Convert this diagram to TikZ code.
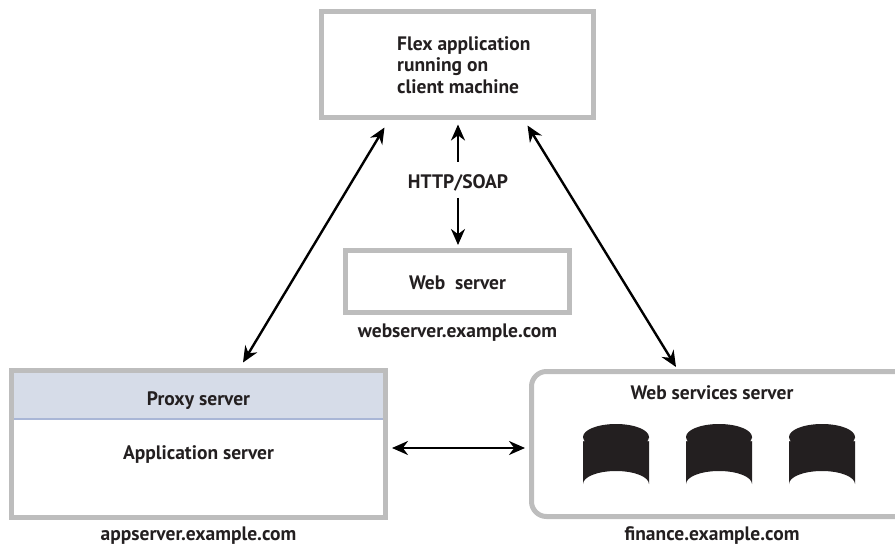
\documentclass[tikz,border=0pt]{standalone}
\usepackage{fontspec}
\setmainfont{PT Sans}
\usetikzlibrary{arrows.meta,calc}
\definecolor{boxgray}{HTML}{BDBDBD}
\definecolor{txt}{HTML}{231F20}
\definecolor{proxyfill}{HTML}{D6DCE8}
\definecolor{proxyline}{HTML}{A9B6D6}
\tikzset{
  box/.style={draw=boxgray, line width=5pt, inner sep=0pt},
  lbl/.style={font=\bfseries\fontsize{19.5}{21.5}\selectfont, text=txt, inner sep=0pt},
  arr/.style={line width=2.4pt, {Stealth[length=16pt,width=14pt]}-{Stealth[length=16pt,width=14pt]}},
  sarr/.style={line width=2.4pt, -{Stealth[length=16pt,width=14pt]}}
}
\newcommand{\dbcyl}[2]{% center x, name
  \fill[txt] (#1-33,437) -- (#1-33,484) arc[start angle=180,end angle=360,x radius=33,y radius=13]
    -- (#1+33,437) -- cycle;
  \draw[white, line width=2.8pt] (#1-33,441) arc[start angle=180,end angle=360,x radius=33,y radius=13];
  \fill[txt] (#1,437) ellipse[x radius=33,y radius=13];
  \coordinate (#2) at (#1,460);
}
\begin{document}
\begin{tikzpicture}[x=1pt,y=-1pt]
\useasboundingbox (0,0) rectangle (895,548);
\clip (0,0) rectangle (895,548);
% client
\node[box, minimum width=272pt, minimum height=106pt] (client) at (457.5,64.5) {};
\node[lbl, align=left, anchor=west] (clienttxt) at (397,65) {Flex application\\running on\\client machine};
% web server
\node[box, minimum width=224pt, minimum height=62pt] (web) at (457.5,281.5) {};
\node[lbl] (webtxt) at (457.5,283) {Web\ \ server};
\node[lbl] (weblbl) at (457.5,333) {webserver.example.com};
% app server
\fill[proxyfill] (11.5,370.5) rectangle (385.5,419);
\draw[proxyline, line width=1.5pt] (11.5,419) -- (385.5,419);
\node[box, minimum width=374pt, minimum height=147pt] (app) at (198.5,444) {};
\node[lbl] (proxytxt) at (198.5,401) {Proxy server};
\node[lbl] (apptxt) at (198.5,455) {Application server};
\node[lbl] (applbl) at (198.5,536) {appserver.example.com};
% web services server
\draw[boxgray, line width=5pt, rounded corners=15pt] (531.5,371.5) rectangle (915,516.5);
\coordinate (wss) at (531.5,444);
\node[lbl] (wsstxt) at (712,393) {Web services server};
\node[lbl] (wsslbl) at (712,536) {finance.example.com};
\dbcyl{616}{db1}
\dbcyl{719}{db2}
\dbcyl{822}{db3}
% arrows
\node[lbl] (http) at (458,183) {HTTP/SOAP};
\draw[sarr] ($(http.center)+(0,-21)$) -- ($(client.south)+(0.5,4.5)$);
\draw[sarr] ($(http.center)+(0,15)$) -- ($(web.north)+(0.5,-3)$);
\draw[arr] ($(app.north)+(44.5,-5.5)$) -- ($(client.south west)+(65.5,7.5)$);
\draw[arr] ($(client.south west)+(208.5,5.5)$) -- ($(wss)+(144.5,-77)$);
\draw[arr] ($(app.east)+(4,4)$) -- ($(wss)+(-6.5,4)$);
\end{tikzpicture}
\end{document}
